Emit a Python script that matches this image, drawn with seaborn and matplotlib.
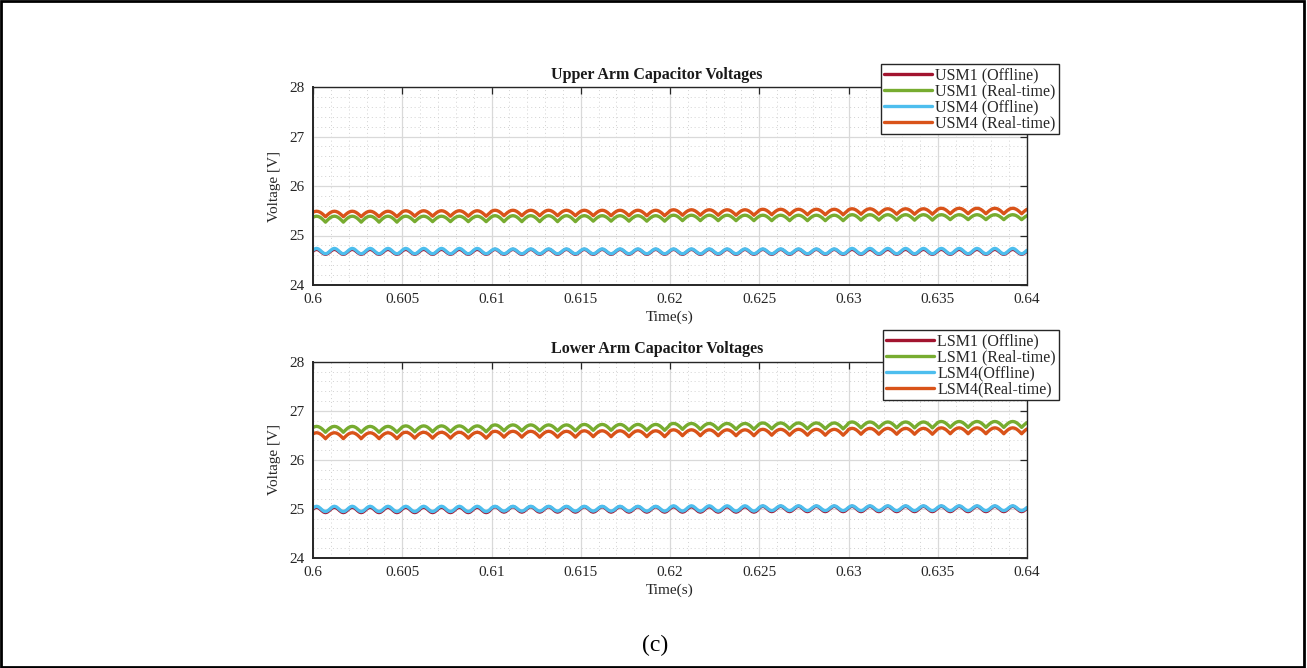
import numpy as np
import pandas as pd
import matplotlib
matplotlib.use("Agg")
import matplotlib.pyplot as plt
import seaborn as sns
from matplotlib.ticker import MultipleLocator
from matplotlib.patches import Rectangle

# ---------------- data ----------------
t_start = 0.6
ripple_period = 0.001          # one ripple per ms
samples_per_period = 10
n_cycles = 40
cycles_per_block = 5           # each level value below covers 5 ripples (0.005 s)

# normalised ripple shape over one period (0 = trough, 1 = crest)
arch_shape = [0.81, 0.95, 1.00, 0.95, 0.81, 0.59, 0.31, 0.00, 0.31, 0.59]
sine_shape = [0.65, 0.90, 1.00, 0.90, 0.65, 0.35, 0.10, 0.00, 0.10, 0.35]

upper_labels = ["USM1 (Offline)", "USM1 (Real-time)", "USM4 (Offline)", "USM4 (Real-time)"]
lower_labels = ["LSM1 (Offline)", "LSM1 (Real-time)", "LSM4(Offline)", "LSM4(Real-time)"]
colors = ["#A2142F", "#77AC30", "#4DBEEE", "#D95319"]

# upper arm: trough / crest level per 0.005 s block
usm1_off_trough = [24.62, 24.62, 24.62, 24.62, 24.62, 24.62, 24.62, 24.62]
usm1_off_crest  = [24.72, 24.72, 24.72, 24.72, 24.72, 24.72, 24.72, 24.72]
usm1_rt_trough  = [25.27, 25.28, 25.28, 25.29, 25.30, 25.30, 25.31, 25.32]
usm1_rt_crest   = [25.39, 25.39, 25.40, 25.40, 25.41, 25.41, 25.42, 25.42]
usm4_off_trough = [24.63, 24.63, 24.63, 24.63, 24.63, 24.63, 24.63, 24.63]
usm4_off_crest  = [24.74, 24.74, 24.73, 24.73, 24.73, 24.73, 24.74, 24.74]
usm4_rt_trough  = [25.38, 25.39, 25.40, 25.40, 25.41, 25.42, 25.43, 25.44]
usm4_rt_crest   = [25.49, 25.50, 25.51, 25.51, 25.52, 25.53, 25.54, 25.55]

# lower arm
lsm1_off_trough = [24.92, 24.92, 24.93, 24.93, 24.93, 24.94, 24.94, 24.94]
lsm1_off_crest  = [25.03, 25.03, 25.04, 25.04, 25.04, 25.05, 25.05, 25.05]
lsm1_rt_trough  = [26.56, 26.57, 26.59, 26.60, 26.62, 26.63, 26.65, 26.66]
lsm1_rt_crest   = [26.68, 26.69, 26.71, 26.72, 26.74, 26.75, 26.77, 26.78]
lsm4_off_trough = [24.94, 24.94, 24.95, 24.95, 24.95, 24.96, 24.96, 24.96]
lsm4_off_crest  = [25.05, 25.05, 25.05, 25.05, 25.06, 25.06, 25.06, 25.06]
lsm4_rt_trough  = [26.43, 26.44, 26.46, 26.47, 26.49, 26.50, 26.52, 26.53]
lsm4_rt_crest   = [26.55, 26.56, 26.58, 26.59, 26.61, 26.62, 26.64, 26.65]

x_ticks = [0.6, 0.605, 0.61, 0.615, 0.62, 0.625, 0.63, 0.635, 0.64]
x_ticklabels = ["0.6", "0.605", "0.61", "0.615", "0.62", "0.625", "0.63", "0.635", "0.64"]
y_ticks = [24, 25, 26, 27, 28]


def build_series(label, trough, crest, shape):
    n = n_cycles * samples_per_period + 1
    idx = np.arange(n)
    cyc = np.minimum(idx // samples_per_period, n_cycles - 1)
    blk = cyc // cycles_per_block
    sh = np.asarray(shape)[idx % samples_per_period]
    lo = np.asarray(trough)[blk]
    hi = np.asarray(crest)[blk]
    t = t_start + idx * (ripple_period / samples_per_period)
    return pd.DataFrame({"Time": t, "Voltage": lo + sh * (hi - lo), "Series": label})


upper_df = pd.concat([
    build_series(upper_labels[0], usm1_off_trough, usm1_off_crest, sine_shape),
    build_series(upper_labels[1], usm1_rt_trough, usm1_rt_crest, arch_shape),
    build_series(upper_labels[2], usm4_off_trough, usm4_off_crest, sine_shape),
    build_series(upper_labels[3], usm4_rt_trough, usm4_rt_crest, arch_shape),
], ignore_index=True)

lower_df = pd.concat([
    build_series(lower_labels[0], lsm1_off_trough, lsm1_off_crest, sine_shape),
    build_series(lower_labels[1], lsm1_rt_trough, lsm1_rt_crest, arch_shape),
    build_series(lower_labels[2], lsm4_off_trough, lsm4_off_crest, sine_shape),
    build_series(lower_labels[3], lsm4_rt_trough, lsm4_rt_crest, arch_shape),
], ignore_index=True)

# ---------------- style ----------------
sns.set_style("white")
plt.rcParams["font.family"] = ["Liberation Serif", "DejaVu Serif"]
plt.rcParams["mathtext.fontset"] = "stix"

W, H = 1307, 668
fig = plt.figure(figsize=(W / 100, H / 100), dpi=100)
fig.patch.set_facecolor("white")

ax_top = fig.add_axes([313 / W, 1 - 285 / H, 714 / W, 198 / H])
ax_bot = fig.add_axes([313 / W, 1 - 557.7 / H, 714 / W, 196 / H])

panels = [
    (ax_top, upper_df, upper_labels, "Upper Arm Capacitor Voltages", (1059 / W, 1 - 64 / H)),
    (ax_bot, lower_df, lower_labels, "Lower Arm Capacitor Voltages", (1059 / W, 1 - 330 / H)),
]

for ax, df, labels, title, anchor in panels:
    ax.set_axisbelow(True)
    sns.lineplot(data=df, x="Time", y="Voltage", hue="Series", hue_order=labels,
                 palette=colors, linewidth=2.4, estimator=None, sort=False, ax=ax)
    ax.set_xlim(0.6, 0.64)
    ax.set_ylim(24, 28)
    ax.set_xticks(x_ticks)
    ax.set_xticklabels(x_ticklabels)
    ax.set_yticks(y_ticks)
    ax.xaxis.set_minor_locator(MultipleLocator(0.001))
    ax.yaxis.set_minor_locator(MultipleLocator(0.2))
    ax.grid(which="major", color="#d9d9d9", linewidth=0.9, linestyle="-")
    ax.grid(which="minor", color="#d2d2d2", linewidth=0.7, linestyle=(0, (1, 3)))
    ax.tick_params(which="major", direction="in", top=True, right=True, length=5,
                   width=0.9, color="#262626", labelsize=11, labelcolor="#262626", pad=6)
    ax.tick_params(which="minor", length=0, top=True, right=True)
    for sp in ax.spines.values():
        sp.set_visible(True)
        sp.set_color("#262626")
        sp.set_linewidth(1.0)
    ax.spines["left"].set_linewidth(1.4)
    ax.spines["bottom"].set_linewidth(1.4)
    ax.set_xlabel("Time(s)", fontsize=11, color="#262626", labelpad=3)
    ax.set_ylabel("Voltage [V]", fontsize=11, color="#262626", labelpad=6)
    ax.set_title(title, fontsize=11.5, fontweight="bold", color="#1a1a1a", pad=6,
                 x=(657 - 313) / 714)
    handles, labs = ax.get_legend_handles_labels()
    leg = ax.legend(handles, labs, loc="upper right", bbox_to_anchor=anchor,
                    bbox_transform=fig.transFigure, fontsize=11.5, frameon=True,
                    fancybox=False, edgecolor="#262626", framealpha=1.0,
                    borderpad=0.2, labelspacing=0.0, handlelength=3.0,
                    handletextpad=0.2, borderaxespad=0.0)
    leg.get_frame().set_linewidth(1.0)
    for line in leg.get_lines():
        line.set_linewidth(2.4)

fig.text(655 / W, 1 - 645 / H, "(c)", ha="center", va="center", fontsize=17, color="black")

fig.patches.append(Rectangle((0.001, 0.002), 0.997, 0.996, transform=fig.transFigure,
                             fill=False, edgecolor="black", linewidth=2.0))

fig.savefig("out.png", dpi=100, facecolor="white")
